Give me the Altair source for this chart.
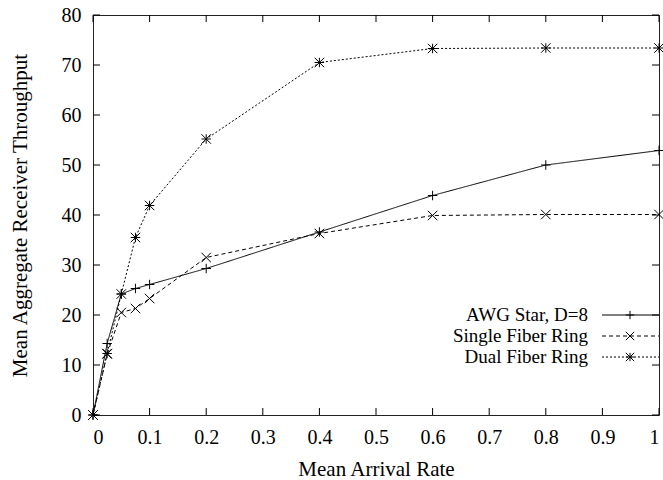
import altair as alt
import pandas as pd

# Mean arrival rate (x) and mean aggregate receiver throughput (y) per network
rate = [0, 0.025, 0.05, 0.075, 0.1, 0.2, 0.4, 0.6, 0.8, 1.0]
awg_star = [0, 14.3, 24.2, 25.3, 26.1, 29.3, 36.6, 43.9, 50.0, 52.9]
single_ring = [0, 12.2, 20.5, 21.3, 23.3, 31.5, 36.3, 39.9, 40.1, 40.1]
dual_ring = [0, 12.3, 24.2, 35.5, 41.9, 55.2, 70.5, 73.3, 73.4, 73.4]

series_names = ["AWG Star, D=8", "Single Fiber Ring", "Dual Fiber Ring"]
x_ticks = [0, 0.1, 0.2, 0.3, 0.4, 0.5, 0.6, 0.7, 0.8, 0.9, 1]
y_ticks = [0, 10, 20, 30, 40, 50, 60, 70, 80]

W, H = 566, 400
FONT = "Liberation Serif"
INK = "#000000"

# gnuplot-like point glyphs: plus, cross, asterisk
plus = "M-1,0L1,0M0,-1L0,1"
cross = "M-1,-1L1,1M-1,1L1,-1"
star = plus + cross
shapes = [plus, cross, star]
dashes = [[1, 0], [4, 3], [2, 2]]

rows = []
for name, vals in zip(series_names, [awg_star, single_ring, dual_ring]):
    for r, v in zip(rate, vals):
        rows.append({"series": name, "rate": r, "throughput": v})
df = pd.DataFrame(rows)

x_enc = alt.X("rate:Q", scale=alt.Scale(domain=[0, 1], nice=False, zero=False),
              axis=alt.Axis(values=x_ticks, format="~g", title="Mean Arrival Rate",
                            grid=False, ticks=False, domain=False,
                            labelPadding=12, titlePadding=11))
y_enc = alt.Y("throughput:Q", scale=alt.Scale(domain=[0, 80], nice=False),
              axis=alt.Axis(values=y_ticks, title="Mean Aggregate Receiver Throughput",
                            grid=False, ticks=False, domain=False,
                            labelPadding=12, titlePadding=31))
dash_enc = alt.StrokeDash("series:N", scale=alt.Scale(domain=series_names, range=dashes),
                          legend=None)
shape_enc = alt.Shape("series:N", scale=alt.Scale(domain=series_names, range=shapes),
                      legend=None)

base = alt.Chart(df)
lines = base.mark_line(color=INK, strokeWidth=1).encode(
    x=x_enc, y=y_enc, strokeDash=dash_enc, detail="series:N")
points = base.mark_point(color=INK, filled=False, strokeWidth=1, size=90, opacity=1).encode(
    x="rate:Q", y="throughput:Q", shape=shape_enc)

# inward tick marks on all four sides of the frame
xt = alt.Chart(pd.DataFrame({"t": x_ticks}))
yt = alt.Chart(pd.DataFrame({"t": y_ticks}))
tick_len = 7
ticks = [
    xt.mark_rule(color=INK, strokeWidth=1).encode(x="t:Q", y=alt.value(H), y2=alt.value(H - tick_len)),
    xt.mark_rule(color=INK, strokeWidth=1).encode(x="t:Q", y=alt.value(0), y2=alt.value(tick_len)),
    yt.mark_rule(color=INK, strokeWidth=1).encode(y="t:Q", x=alt.value(0), x2=alt.value(tick_len)),
    yt.mark_rule(color=INK, strokeWidth=1).encode(y="t:Q", x=alt.value(W), x2=alt.value(W - tick_len)),
]

# key in the lower right: label, line sample, glyph
key = []
for i, name in enumerate(series_names):
    row_y = 300 + 21 * i
    kd = alt.Chart(pd.DataFrame({"series": [name]}))
    key.append(kd.mark_text(align="right", baseline="middle", font=FONT, fontSize=19,
                            color=INK).encode(text="series:N", x=alt.value(495), y=alt.value(row_y)))
    key.append(kd.mark_rule(color=INK, strokeWidth=1).encode(
        x=alt.value(509), x2=alt.value(W), y=alt.value(row_y), strokeDash=dash_enc))
    key.append(kd.mark_point(color=INK, filled=False, strokeWidth=1, size=70, opacity=1).encode(
        x=alt.value(537), y=alt.value(row_y), shape=shape_enc))

chart = alt.layer(lines, points, *ticks, *key).properties(
    width=W, height=H,
    autosize=alt.AutoSizeParams(type="none"),
    padding={"left": 93, "top": 15, "right": 4, "bottom": 65},
    background="white",
).configure_view(stroke="#222222", strokeWidth=1).configure_axis(
    labelFont=FONT, labelFontSize=20, labelColor=INK,
    titleFont=FONT, titleFontSize=21, titleColor=INK, titleFontWeight="normal",
)

chart.save("out.html", embed_options={"renderer": "svg", "actions": False})
